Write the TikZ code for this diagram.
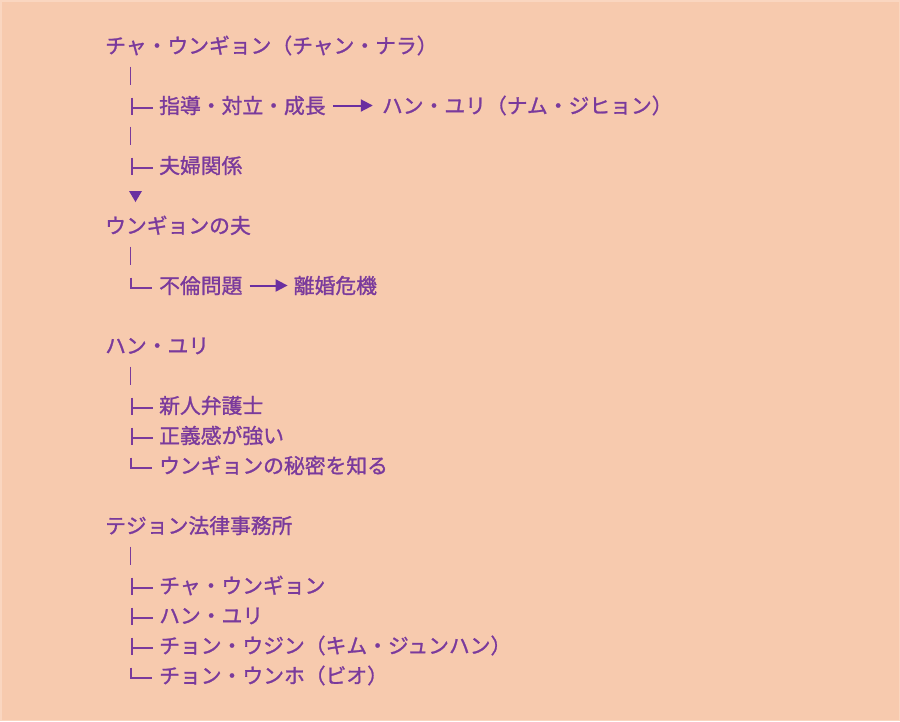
\documentclass[tikz,border=0pt]{standalone}
\usepackage{fontspec}
\setmainfont{Noto Sans CJK JP}[FakeBold=1.2]
\usetikzlibrary{arrows.meta}
\definecolor{bg}{HTML}{F7CAAE}
\definecolor{edge}{HTML}{FAD6C0}
\definecolor{ink}{HTML}{7A3A9C}
\definecolor{tri}{HTML}{6A2FA0}
\begin{document}
\begin{tikzpicture}[x=1pt,y=-1pt,
  txt/.style={anchor=base west, inner sep=0pt, text=ink, font=\fontsize{20.8}{24}\selectfont},
  bar/.style={draw=ink, line width=1.5pt},
  branch/.style={draw=ink, line width=2pt},
  relarrow/.style={draw=tri, line width=2pt, -{Triangle[length=12pt,width=12pt]}},
]
\fill[bg] (0,0) rectangle (900,721);
\useasboundingbox (0,0) rectangle (900,721);
\draw[edge, line width=1.5pt] (0.75,0.75) rectangle (899.25,720.25);

% ---------- Block 1 ----------
\node[txt] (t1) at (105,53.4) {チャ・ウンギョン（チャン・ナラ）};
\coordinate (b2a) at (130.7,66.5); \coordinate (b2b) at (130.7,84.5);
\draw[bar] (b2a) -- (b2b);

\coordinate (r3top) at (131.5,97.5); \coordinate (r3bot) at (131.5,114.5);
\coordinate (r3mid) at (131.5,107.5); \coordinate (r3end) at (153,107.5);
\draw[branch] (r3top) -- (r3bot); \draw[branch] (r3mid) -- (r3end);
\node[txt] (t3a) at (159,113.4) {指導・対立・成長};
\coordinate (a3s) at ([shift={(7,-7.9)}]t3a.base east);
\coordinate (a3e) at ([shift={(47,-7.9)}]t3a.base east);
\draw[relarrow] (a3s) -- (a3e);
\node[txt] (t3b) at ([xshift=56pt]t3a.base east) {ハン・ユリ（ナム・ジヒョン）};

\coordinate (b4a) at (130.7,126.5); \coordinate (b4b) at (130.7,144.5);
\draw[bar] (b4a) -- (b4b);

\coordinate (r5top) at (131.5,157.5); \coordinate (r5bot) at (131.5,174.5);
\coordinate (r5mid) at (131.5,167.5); \coordinate (r5end) at (153,167.5);
\draw[branch] (r5top) -- (r5bot); \draw[branch] (r5mid) -- (r5end);
\node[txt] (t5) at (159,173.4) {夫婦関係};

\fill[tri] (129,191) -- (142,191) -- (135.5,202) -- cycle;

% ---------- Block 2 ----------
\node[txt] (t7) at (105,233.4) {ウンギョンの夫};
\coordinate (b8a) at (130.7,246.5); \coordinate (b8b) at (130.7,264.5);
\draw[bar] (b8a) -- (b8b);

\coordinate (r9top) at (131,277.5); \coordinate (r9mid) at (131,287.5); \coordinate (r9end) at (152,287.5);
\draw[branch] (r9top) -- (r9mid) -- (r9end);
\node[txt] (t9a) at (159,293.4) {不倫問題};
\coordinate (a9s) at ([shift={(7,-7.9)}]t9a.base east);
\coordinate (a9e) at ([shift={(45,-7.9)}]t9a.base east);
\draw[relarrow] (a9s) -- (a9e);
\node[txt] (t9b) at ([xshift=51pt]t9a.base east) {離婚危機};

% ---------- Block 3 ----------
\node[txt] (t11) at (105,353.4) {ハン・ユリ};
\coordinate (b12a) at (130.7,366.5); \coordinate (b12b) at (130.7,384.5);
\draw[bar] (b12a) -- (b12b);

\coordinate (r13top) at (131.5,397.5); \coordinate (r13bot) at (131.5,414.5);
\coordinate (r13mid) at (131.5,407.5); \coordinate (r13end) at (153,407.5);
\draw[branch] (r13top) -- (r13bot); \draw[branch] (r13mid) -- (r13end);
\node[txt] (t13) at (159,413.4) {新人弁護士};

\coordinate (r14top) at (131.5,427.5); \coordinate (r14bot) at (131.5,444.5);
\coordinate (r14mid) at (131.5,437.5); \coordinate (r14end) at (153,437.5);
\draw[branch] (r14top) -- (r14bot); \draw[branch] (r14mid) -- (r14end);
\node[txt] (t14) at (159,443.4) {正義感が強い};

\coordinate (r15top) at (131,457.5); \coordinate (r15mid) at (131,467.5); \coordinate (r15end) at (152,467.5);
\draw[branch] (r15top) -- (r15mid) -- (r15end);
\node[txt] (t15) at (159,473.4) {ウンギョンの秘密を知る};

% ---------- Block 4 ----------
\node[txt] (t17) at (105,533.4) {テジョン法律事務所};
\coordinate (b18a) at (130.7,546.5); \coordinate (b18b) at (130.7,564.5);
\draw[bar] (b18a) -- (b18b);

\coordinate (r19top) at (131.5,577.5); \coordinate (r19bot) at (131.5,594.5);
\coordinate (r19mid) at (131.5,587.5); \coordinate (r19end) at (153,587.5);
\draw[branch] (r19top) -- (r19bot); \draw[branch] (r19mid) -- (r19end);
\node[txt] (t19) at (159,593.4) {チャ・ウンギョン};

\coordinate (r20top) at (131.5,607.5); \coordinate (r20bot) at (131.5,624.5);
\coordinate (r20mid) at (131.5,617.5); \coordinate (r20end) at (153,617.5);
\draw[branch] (r20top) -- (r20bot); \draw[branch] (r20mid) -- (r20end);
\node[txt] (t20) at (159,623.4) {ハン・ユリ};

\coordinate (r21top) at (131.5,637.5); \coordinate (r21bot) at (131.5,654.5);
\coordinate (r21mid) at (131.5,647.5); \coordinate (r21end) at (153,647.5);
\draw[branch] (r21top) -- (r21bot); \draw[branch] (r21mid) -- (r21end);
\node[txt] (t21) at (159,653.4) {チョン・ウジン（キム・ジュンハン）};

\coordinate (r22top) at (131,667.5); \coordinate (r22mid) at (131,677.5); \coordinate (r22end) at (152,677.5);
\draw[branch] (r22top) -- (r22mid) -- (r22end);
\node[txt] (t22) at (159,683.4) {チョン・ウンホ（ビオ）};
\end{tikzpicture}
\end{document}
